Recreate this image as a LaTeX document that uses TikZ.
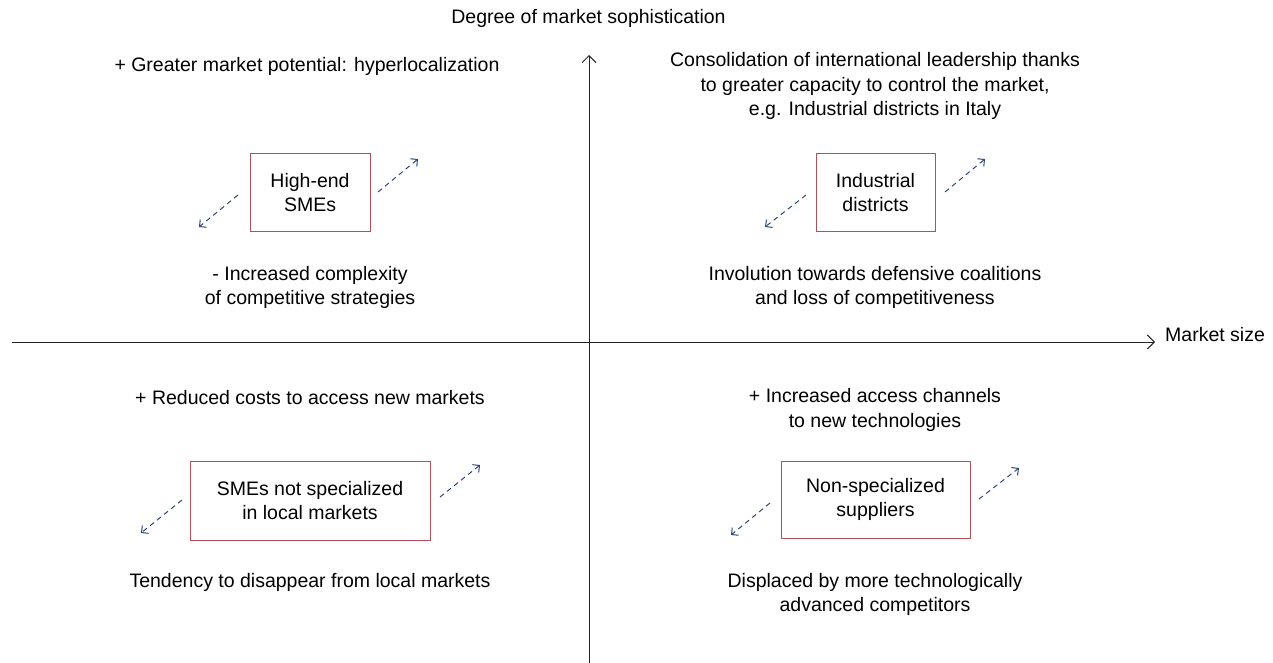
\documentclass[tikz,border=0pt]{standalone}
\usepackage{fontspec}
\setmainfont{Liberation Sans}
\usetikzlibrary{arrows.meta}
\definecolor{boxred}{HTML}{B0505A}
\definecolor{navy}{HTML}{2E4675}
\definecolor{axisgray}{HTML}{222222}
\tikzset{
  lbl/.style={font=\fontsize{19.5}{24.5}\selectfont, align=center, text=black, inner sep=0pt},
  boxnode/.style={draw=boxred, line width=1pt, font=\fontsize{19.5}{24.5}\selectfont, align=center, inner sep=0pt},
  axis/.style={draw=axisgray, line width=1pt, -{Straight Barb[length=7pt,width=14pt]}},
  dasharr/.style={draw=navy, line width=1pt, dash pattern=on 5pt off 4pt, -{Straight Barb[length=5pt,width=10pt]}}
}
\begin{document}
\begin{tikzpicture}[x=1pt,y=-1pt]
\useasboundingbox (0,0) rectangle (1273,663);
% axes
\coordinate (vbot) at (589,663);
\coordinate (vtop) at (589,55);
\coordinate (hl) at (12,342);
\coordinate (hr) at (1155,342);
\draw[axis] (vbot) -- (vtop);
\draw[axis] (hl) -- (hr);
\node[lbl] (ylab) at (588.5,18) {Degree of market sophistication};
\node[lbl, anchor=west] (xlab) at (1165,335) {Market size};
% boxes
\node[boxnode, minimum width=120pt, minimum height=77pt] (b1) at (310,192.5) {High-end\\SMEs};
\node[boxnode, minimum width=119pt, minimum height=77pt] (b2) at (875.5,192.5) {Industrial\\districts};
\node[boxnode, minimum width=240pt, minimum height=79pt] (b3) at (310,500.5) {SMEs not specialized\\in local markets};
\node[boxnode, minimum width=189pt, minimum height=77pt] (b4) at (875.5,499.5) {Non-specialized\\suppliers};
% dashed arrows
\coordinate (a1s) at (238,195); \coordinate (a1e) at (199,227);
\coordinate (a2s) at (378,192); \coordinate (a2e) at (418,159);
\coordinate (a3s) at (806,195); \coordinate (a3e) at (765,227);
\coordinate (a4s) at (945,192); \coordinate (a4e) at (985,159);
\coordinate (a5s) at (182,500); \coordinate (a5e) at (141,533);
\coordinate (a6s) at (440,497); \coordinate (a6e) at (480,465);
\coordinate (a7s) at (770,503); \coordinate (a7e) at (731,535);
\coordinate (a8s) at (979,499); \coordinate (a8e) at (1019,468);
\foreach \i in {1,...,8} {\draw[dasharr] (a\i s) -- (a\i e);}
% texts
\node[lbl] (t1) at (307,66) {+ Greater market potential: hyperlocalization};
\node[lbl] (t2) at (310,287.5) {- Increased complexity\\of competitive strategies};
\node[lbl] (t3) at (875,86) {Consolidation of international leadership thanks\\to greater capacity to control the market,\\e.g. Industrial districts in Italy};
\node[lbl] (t4) at (875,287.5) {Involution towards defensive coalitions\\and loss of competitiveness};
\node[lbl] (t5) at (310,398) {+ Reduced costs to access new markets};
\node[lbl] (t6) at (310,582) {Tendency to disappear from local markets};
\node[lbl] (t7) at (875,410) {+ Increased access channels\\to new technologies};
\node[lbl] (t8) at (875,594.5) {Displaced by more technologically\\advanced competitors};
\end{tikzpicture}
\end{document}
